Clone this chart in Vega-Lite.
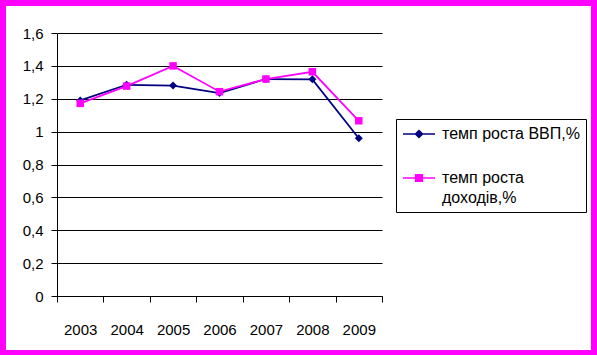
{
  "$schema": "https://vega.github.io/schema/vega-lite/v6.json",
  "width": 585,
  "height": 344,
  "autosize": {"type": "none"},
  "padding": {"left": 6, "top": 6, "right": 6, "bottom": 5},
  "background": "#FF00FF",
  "config": {
    "view": {"fill": "white", "stroke": null},
    "font": "Liberation Sans"
  },
  "data": {
    "values": [
      {"year": "2003", "series": "темп роста ВВП,%", "value": 1.19},
      {"year": "2004", "series": "темп роста ВВП,%", "value": 1.285},
      {"year": "2005", "series": "темп роста ВВП,%", "value": 1.28},
      {"year": "2006", "series": "темп роста ВВП,%", "value": 1.235},
      {"year": "2007", "series": "темп роста ВВП,%", "value": 1.32},
      {"year": "2008", "series": "темп роста ВВП,%", "value": 1.318},
      {"year": "2009", "series": "темп роста ВВП,%", "value": 0.96},
      {"year": "2003", "series": "темп роста доходів,%", "value": 1.172},
      {"year": "2004", "series": "темп роста доходів,%", "value": 1.277},
      {"year": "2005", "series": "темп роста доходів,%", "value": 1.4},
      {"year": "2006", "series": "темп роста доходів,%", "value": 1.243},
      {"year": "2007", "series": "темп роста доходів,%", "value": 1.32},
      {"year": "2008", "series": "темп роста доходів,%", "value": 1.364},
      {"year": "2009", "series": "темп роста доходів,%", "value": 1.066}
    ]
  },
  "encoding": {
    "x": {
      "field": "year",
      "type": "ordinal",
      "scale": {"type": "band", "range": [51, 376], "paddingInner": 0, "paddingOuter": 0},
      "axis": {
        "orient": "bottom",
        "offset": -54,
        "title": null,
        "labelAngle": 0,
        "tickBand": "extent",
        "tickSize": 6,
        "tickColor": "black",
        "domainColor": "black",
        "grid": false,
        "labelPadding": 20,
        "labelFont": "Liberation Sans",
        "labelFontSize": 15,
        "labelColor": "black"
      }
    },
    "y": {
      "field": "value",
      "type": "quantitative",
      "scale": {"domain": [0, 1.6], "range": [290, 27], "nice": false},
      "axis": {
        "offset": -51,
        "title": null,
        "values": [0, 0.2, 0.4, 0.6, 0.8, 1, 1.2, 1.4, 1.6],
        "format": ".1~f",
        "labelExpr": "replace(datum.label, '.', ',')",
        "grid": true,
        "gridColor": "black",
        "gridOpacity": 1,
        "gridWidth": 1,
        "domainColor": "black",
        "tickColor": "black",
        "tickSize": 6,
        "labelPadding": 8,
        "labelFont": "Liberation Sans",
        "labelFontSize": 15,
        "labelColor": "black"
      }
    },
    "color": {
      "field": "series",
      "type": "nominal",
      "scale": {"domain": ["темп роста ВВП,%", "темп роста доходів,%"], "range": ["#000080", "#FF00FF"]},
      "legend": {
        "orient": "none",
        "legendX": 390,
        "legendY": 113,
        "title": null,
        "strokeColor": "black",
        "fillColor": "white",
        "padding": 6,
        "cornerRadius": 0,
        "labelFont": "Liberation Sans",
        "labelFontSize": 16,
        "labelColor": "black",
        "labelOffset": 22,
        "labelLimit": 300,
        "symbolSize": 256,
        "symbolStrokeWidth": 1.5,
        "symbolOpacity": 1,
        "rowPadding": 27,
        "labelExpr": "datum.label == 'темп роста доходів,%' ? ['темп роста', 'доходів,%'] : datum.label",
        "encode": {
          "labels": {
            "update": {
              "lineHeight": {"value": 20},
              "baseline": {"value": "alphabetic"},
              "dy": {"value": 5}
            }
          }
        }
      }
    }
  },
  "layer": [
    {"mark": {"type": "line", "strokeWidth": 1.75}},
    {
      "mark": {"type": "point", "filled": true, "opacity": 0},
      "encoding": {
        "shape": {
          "field": "series",
          "type": "nominal",
          "scale": {"domain": ["темп роста ВВП,%", "темп роста доходів,%"], "range": ["M-1,0H3M1,-0.44L1.44,0L1,0.44L0.56,0Z", "M-1,0H3M0.58,-0.42H1.42V0.42H0.58Z"]},
          "legend": null
        }
      }
    },
    {
      "transform": [{"filter": "datum.series === 'темп роста ВВП,%'"}],
      "mark": {"type": "point", "shape": "diamond", "filled": true, "opacity": 1, "size": 64}
    },
    {
      "transform": [{"filter": "datum.series === 'темп роста доходів,%'"}],
      "mark": {"type": "point", "shape": "square", "filled": true, "opacity": 1, "size": 56}
    }
  ]
}
